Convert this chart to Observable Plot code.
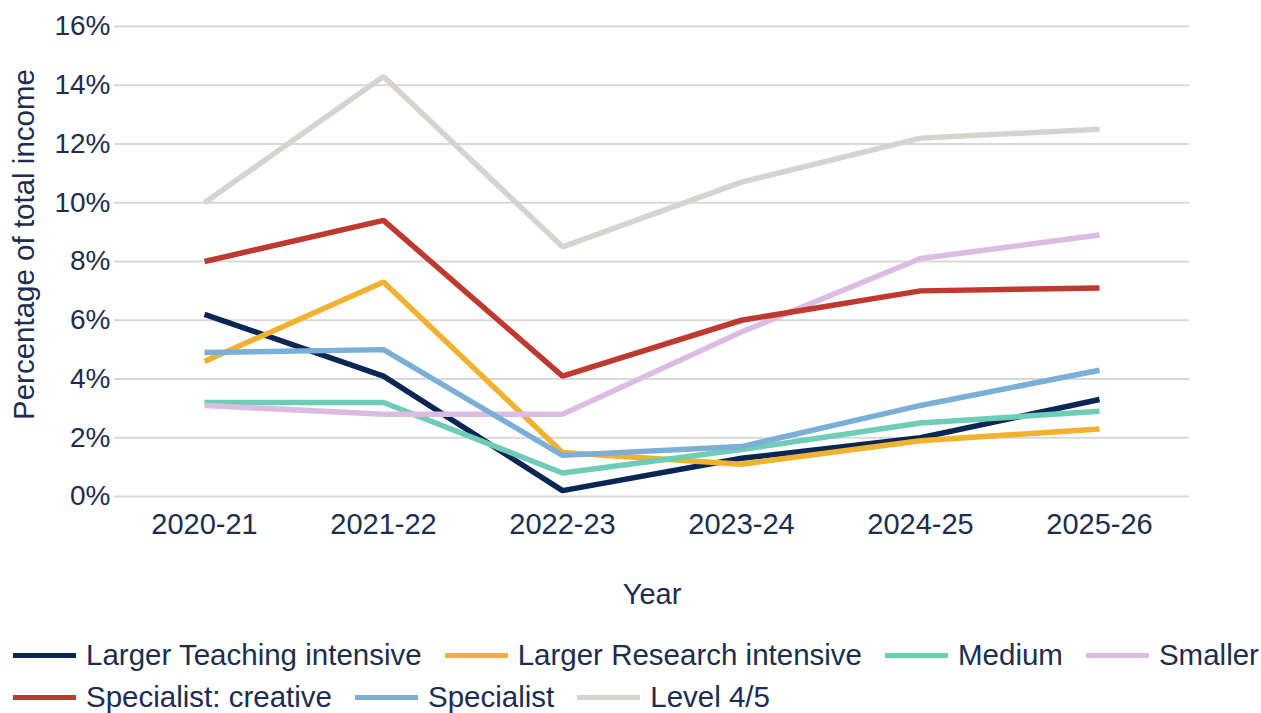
<!DOCTYPE html>
<html>
<head>
<meta charset="utf-8">
<script src="https://cdn.jsdelivr.net/npm/d3@7"></script>
<script src="https://cdn.jsdelivr.net/npm/@observablehq/plot@0.6"></script>
<style>
  html, body { margin: 0; padding: 0; background: #fff; }
  body { width: 1261px; height: 713px; overflow: hidden; font-family: "Liberation Sans", Arial, sans-serif; color: #1d2d50; }
  .legend { position: relative; font-size: 29.5px; margin-top: 14px; }
  .row { display: flex; align-items: center; height: 42px; white-space: nowrap; padding-left: 13px; }
  .item { display: flex; align-items: center; margin-right: 23px; }
  .sw { width: 63px; height: 5px; margin-right: 10px; }
</style>
</head>
<body>
<div id="chart"></div>
<div class="legend" id="legend"></div>
<script>
const years = ["2020-21", "2021-22", "2022-23", "2023-24", "2024-25", "2025-26"];
const seriesNames = ["Larger Teaching intensive", "Larger Research intensive", "Medium", "Smaller", "Specialist: creative", "Specialist", "Level 4/5"];
const seriesColors = ["#0b2655", "#f0b22f", "#6ecdb7", "#dbbde3", "#c0392f", "#7bafd7", "#d7d3ce"];
const largerTeaching = [6.2, 4.1, 0.2, 1.3, 2.0, 3.3];
const largerResearch = [4.6, 7.3, 1.5, 1.1, 1.9, 2.3];
const medium = [3.2, 3.2, 0.8, 1.6, 2.5, 2.9];
const smaller = [3.1, 2.8, 2.8, 5.6, 8.1, 8.9];
const specialistCreative = [8.0, 9.4, 4.1, 6.0, 7.0, 7.1];
const specialist = [4.9, 5.0, 1.4, 1.7, 3.1, 4.3];
const level45 = [10.0, 14.3, 8.5, 10.7, 12.2, 12.5];
const yTicks = [0, 2, 4, 6, 8, 10, 12, 14, 16];
const yLabel = "Percentage of total income";
const xLabel = "Year";

const allSeries = [largerTeaching, largerResearch, medium, smaller, specialistCreative, specialist, level45];
const data = [];
allSeries.forEach((vals, si) => {
  vals.forEach((v, i) => data.push({series: seriesNames[si], year: years[i], value: v}));
});

const chart = Plot.plot({
  width: 1261,
  height: 620,
  marginLeft: 114,
  marginRight: 72,
  marginTop: 26,
  marginBottom: 124,
  style: {fontFamily: "'Liberation Sans', Arial, sans-serif", fontSize: "28px", color: "#1d2d50", background: "#fff"},
  x: {type: "point", domain: years, padding: 0.5},
  y: {domain: [0, 16]},
  color: {domain: seriesNames, range: seriesColors},
  marks: [
    Plot.ruleY(yTicks, {stroke: "#d9d9d9", strokeWidth: 2}),
    Plot.axisY({ticks: yTicks, tickSize: 0, tickPadding: 4, tickFormat: d => d + "%", label: null, fontSize: 28}),
    Plot.axisX({tickSize: 0, tickPadding: 17, label: xLabel, labelAnchor: "center", labelOffset: 107, fontSize: 29}),
    Plot.text([yLabel], {frameAnchor: "left", rotate: -90, dx: -90, dy: -17, fontSize: 29.5, fill: "#1d2d50", textAnchor: "middle"}),
    Plot.line(data, {x: "year", y: "value", z: "series", stroke: "series", strokeWidth: 5.5, strokeLinecap: "butt", strokeLinejoin: "miter"})
  ]
});
document.getElementById("chart").appendChild(chart);

const legendRows = [[0, 1, 2, 3], [4, 5, 6]];
const legend = document.getElementById("legend");
legendRows.forEach(r => {
  const row = document.createElement("div");
  row.className = "row";
  r.forEach(i => {
    const it = document.createElement("div");
    it.className = "item";
    const sw = document.createElement("div");
    sw.className = "sw";
    sw.style.background = seriesColors[i];
    const t = document.createElement("span");
    t.textContent = seriesNames[i];
    it.appendChild(sw);
    it.appendChild(t);
    row.appendChild(it);
  });
  legend.appendChild(row);
});
</script>
</body>
</html>
